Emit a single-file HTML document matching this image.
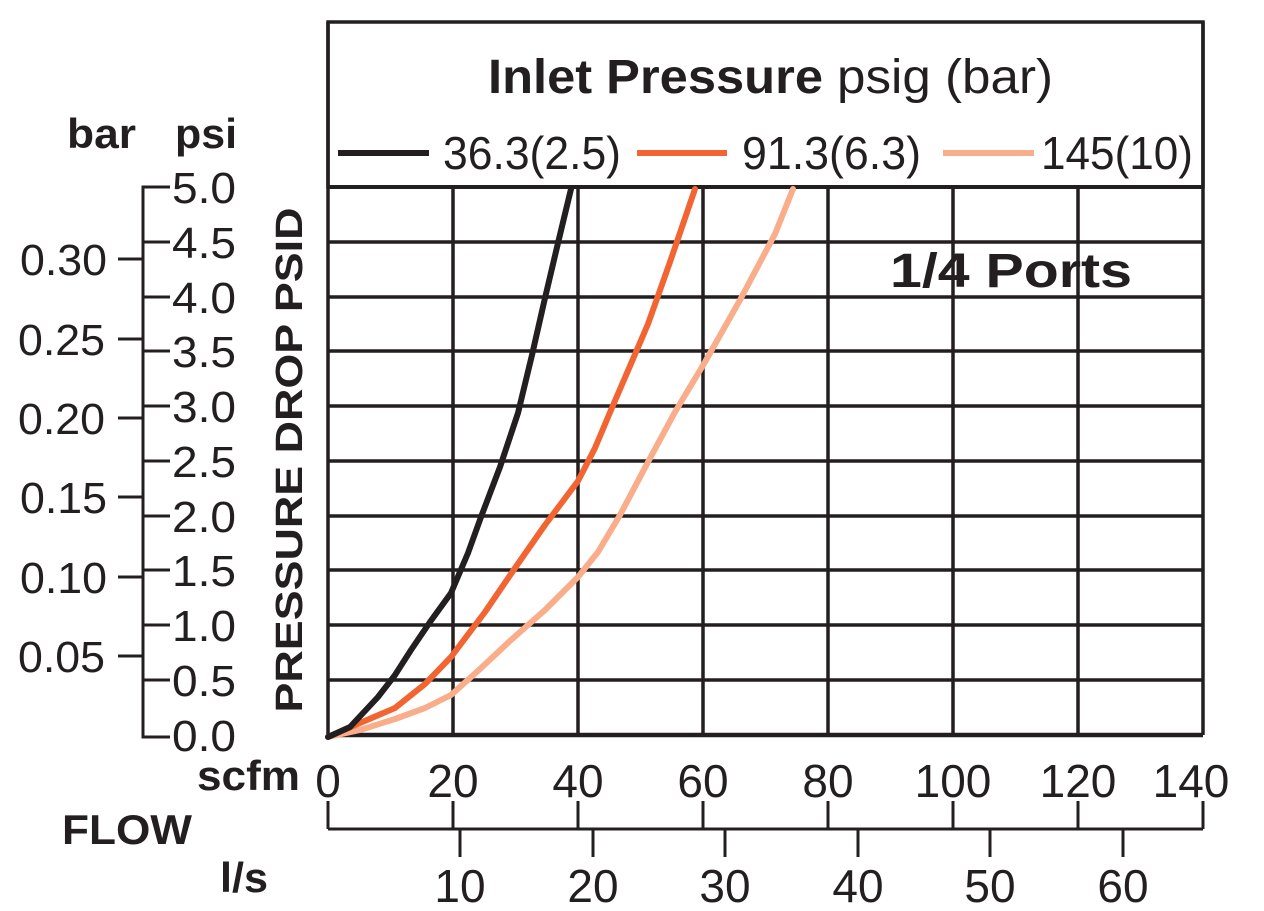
<!DOCTYPE html>
<html><head><meta charset="utf-8"><style>
html,body{margin:0;padding:0;background:#fff}
svg{display:block}
text{font-family:"Liberation Sans",Arial,sans-serif;fill:#231f20}
.b{font-weight:bold}
</style></head><body>
<svg width="1264" height="911" viewBox="0 0 1264 911" xmlns="http://www.w3.org/2000/svg">
<g stroke="#231f20" stroke-width="3.5" fill="none">
<rect x="328" y="22" width="875" height="165"/>
<line x1="328" y1="187" x2="1203" y2="187" stroke-width="4"/>
<line x1="328" y1="242" x2="1203" y2="242"/>
<line x1="328" y1="297" x2="1203" y2="297"/>
<line x1="328" y1="351" x2="1203" y2="351"/>
<line x1="328" y1="406" x2="1203" y2="406"/>
<line x1="328" y1="461" x2="1203" y2="461"/>
<line x1="328" y1="516" x2="1203" y2="516"/>
<line x1="328" y1="570" x2="1203" y2="570"/>
<line x1="328" y1="625" x2="1203" y2="625"/>
<line x1="328" y1="680" x2="1203" y2="680"/>
<line x1="328" y1="735" x2="1203" y2="735" stroke-width="4.5"/>
<line x1="328" y1="22" x2="328" y2="737"/>
<line x1="453" y1="187" x2="453" y2="735"/>
<line x1="578" y1="187" x2="578" y2="735"/>
<line x1="703" y1="187" x2="703" y2="735"/>
<line x1="828" y1="187" x2="828" y2="735"/>
<line x1="953" y1="187" x2="953" y2="735"/>
<line x1="1078" y1="187" x2="1078" y2="735"/>
<line x1="1203" y1="22" x2="1203" y2="735"/>
<polyline points="170,187 143,187 143,737 170,737" stroke-width="3"/>
<g stroke-width="3">
<line x1="143" y1="242" x2="170" y2="242"/>
<line x1="143" y1="297" x2="170" y2="297"/>
<line x1="143" y1="351" x2="170" y2="351"/>
<line x1="143" y1="406" x2="170" y2="406"/>
<line x1="143" y1="461" x2="170" y2="461"/>
<line x1="143" y1="516" x2="170" y2="516"/>
<line x1="143" y1="570" x2="170" y2="570"/>
<line x1="143" y1="625" x2="170" y2="625"/>
<line x1="143" y1="680" x2="170" y2="680"/>
<line x1="118" y1="259" x2="143" y2="259"/>
<line x1="118" y1="339" x2="143" y2="339"/>
<line x1="118" y1="418" x2="143" y2="418"/>
<line x1="118" y1="497" x2="143" y2="497"/>
<line x1="118" y1="577" x2="143" y2="577"/>
<line x1="118" y1="656" x2="143" y2="656"/>
<line x1="328" y1="829" x2="1203" y2="829"/>
<line x1="328" y1="801" x2="328" y2="829"/>
<line x1="453" y1="801" x2="453" y2="829"/>
<line x1="578" y1="801" x2="578" y2="829"/>
<line x1="703" y1="801" x2="703" y2="829"/>
<line x1="828" y1="801" x2="828" y2="829"/>
<line x1="953" y1="801" x2="953" y2="829"/>
<line x1="1078" y1="801" x2="1078" y2="829"/>
<line x1="1203" y1="801" x2="1203" y2="829"/>
<line x1="460" y1="829" x2="460" y2="857"/>
<line x1="593" y1="829" x2="593" y2="857"/>
<line x1="725" y1="829" x2="725" y2="857"/>
<line x1="858" y1="829" x2="858" y2="857"/>
<line x1="990" y1="829" x2="990" y2="857"/>
<line x1="1123" y1="829" x2="1123" y2="857"/>
</g>
</g>
<g fill="none" stroke-width="6" stroke-linejoin="round" stroke-linecap="round">
<polyline stroke="#f9ad8a" points="328,737 360,730 395,719 425,708 451,695 480,669 511,640 545,610 578,577 598,552 620,515 648,462 675,412 705,362 740,300 775,234 793,189"/>
<polyline stroke="#f26532" points="328,737 360,723 395,708 425,684 451,657 485,612 515,568 545,525 578,481 595,448 611,410 630,366 648,324 670,262 695,189"/>
<polyline stroke="#231f20" points="328,737 350,727 378,697 395,675 411,650 430,622 451,593 468,553 481,517 500,467 518,413 532,355 545,298 558,243 571,189"/>
</g>
<text x="488" y="93" class="b" font-size="48" textLength="335" lengthAdjust="spacingAndGlyphs">Inlet Pressure</text>
<text x="837" y="93" font-size="48" textLength="216" lengthAdjust="spacingAndGlyphs">psig (bar)</text>
<line x1="338" y1="153" x2="429" y2="153" stroke="#231f20" stroke-width="6"/>
<line x1="637" y1="153" x2="727" y2="153" stroke="#f26532" stroke-width="6"/>
<line x1="943" y1="153" x2="1034" y2="153" stroke="#f9ad8a" stroke-width="6"/>
<text x="443" y="169" font-size="46" textLength="178" lengthAdjust="spacingAndGlyphs">36.3(2.5)</text>
<text x="742" y="169" font-size="46" textLength="179" lengthAdjust="spacingAndGlyphs">91.3(6.3)</text>
<text x="1041" y="169" font-size="46" textLength="152" lengthAdjust="spacingAndGlyphs">145(10)</text>
<text x="890" y="287" class="b" font-size="48" textLength="242" lengthAdjust="spacingAndGlyphs">1/4 Ports</text>
<text x="67" y="148" class="b" font-size="42" textLength="69" lengthAdjust="spacingAndGlyphs">bar</text>
<text x="175" y="148" class="b" font-size="42" textLength="62" lengthAdjust="spacingAndGlyphs">psi</text>
<g font-size="44">
<text x="172" y="203" textLength="64" lengthAdjust="spacingAndGlyphs">5.0</text>
<text x="172" y="258" textLength="64" lengthAdjust="spacingAndGlyphs">4.5</text>
<text x="172" y="313" textLength="64" lengthAdjust="spacingAndGlyphs">4.0</text>
<text x="172" y="367" textLength="64" lengthAdjust="spacingAndGlyphs">3.5</text>
<text x="172" y="422" textLength="64" lengthAdjust="spacingAndGlyphs">3.0</text>
<text x="172" y="477" textLength="64" lengthAdjust="spacingAndGlyphs">2.5</text>
<text x="172" y="532" textLength="64" lengthAdjust="spacingAndGlyphs">2.0</text>
<text x="172" y="586" textLength="64" lengthAdjust="spacingAndGlyphs">1.5</text>
<text x="172" y="641" textLength="64" lengthAdjust="spacingAndGlyphs">1.0</text>
<text x="172" y="696" textLength="64" lengthAdjust="spacingAndGlyphs">0.5</text>
<text x="172" y="751" textLength="64" lengthAdjust="spacingAndGlyphs">0.0</text>
<text x="20" y="275" textLength="87" lengthAdjust="spacingAndGlyphs">0.30</text>
<text x="18" y="355" textLength="87" lengthAdjust="spacingAndGlyphs">0.25</text>
<text x="18" y="434" textLength="87" lengthAdjust="spacingAndGlyphs">0.20</text>
<text x="20" y="513" textLength="87" lengthAdjust="spacingAndGlyphs">0.15</text>
<text x="20" y="593" textLength="87" lengthAdjust="spacingAndGlyphs">0.10</text>
<text x="18" y="672" textLength="87" lengthAdjust="spacingAndGlyphs">0.05</text>
</g>
<text transform="translate(302,460) rotate(-90)" text-anchor="middle" class="b" font-size="38" textLength="505" lengthAdjust="spacingAndGlyphs">PRESSURE DROP PSID</text>
<text x="197" y="790" class="b" font-size="42" textLength="103" lengthAdjust="spacingAndGlyphs">scfm</text>
<text x="62" y="844" class="b" font-size="42" textLength="130" lengthAdjust="spacingAndGlyphs">FLOW</text>
<text x="220" y="892" class="b" font-size="42" textLength="48" lengthAdjust="spacingAndGlyphs">l/s</text>
<g font-size="46" text-anchor="middle">
<text x="328" y="797">0</text>
<text x="453" y="797">20</text>
<text x="578" y="797">40</text>
<text x="703" y="797">60</text>
<text x="828" y="797">80</text>
<text x="953" y="797">100</text>
<text x="1078" y="797">120</text>
<text x="1191" y="797">140</text>
<text x="460" y="902">10</text>
<text x="593" y="902">20</text>
<text x="725" y="902">30</text>
<text x="858" y="902">40</text>
<text x="990" y="902">50</text>
<text x="1123" y="902">60</text>
</g>
</svg>
</body></html>
